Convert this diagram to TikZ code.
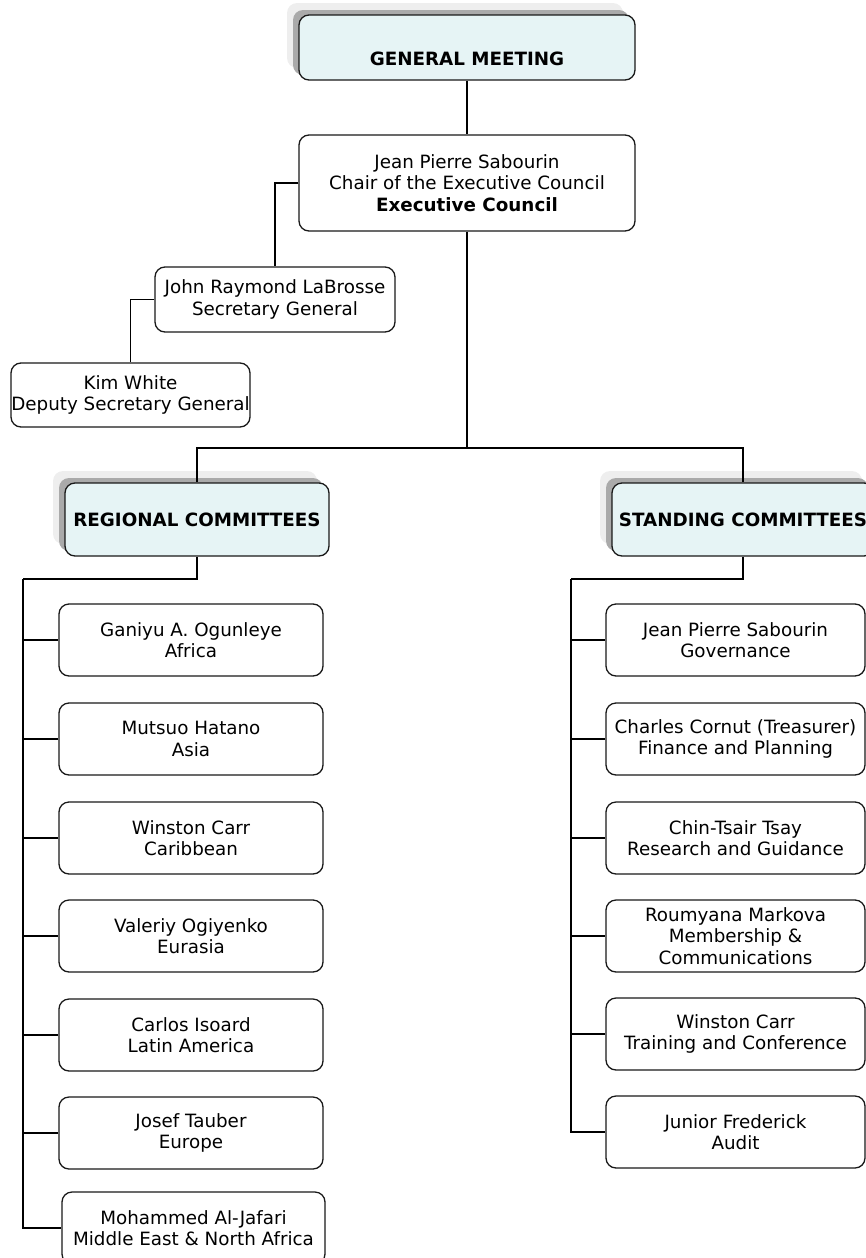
\documentclass[tikz,border=0pt]{standalone}
\usepackage{fontspec}
\setmainfont{DejaVu Sans}
\definecolor{hdrfill}{RGB}{230,244,245}
\definecolor{shdark}{RGB}{170,170,170}
\definecolor{shlight}{RGB}{238,238,238}
\definecolor{edge}{RGB}{25,25,25}
\tikzset{
  box/.style={draw=edge, line width=1.3pt, rounded corners=10pt, fill=white,
    align=center, inner sep=0pt, font=\fontsize{18.3}{21.5}\selectfont},
  hdr/.style={box, fill=hdrfill, font=\fontsize{18.3}{21.5}\selectfont\bfseries},
  link/.style={draw=black, line width=1.4pt},
}
\begin{document}
\begin{tikzpicture}[x=1pt,y=-1pt]
\useasboundingbox (0,0) rectangle (866,1258);
\clip (0,0) rectangle (866,1258);
% shadows of headers
\foreach \cx/\cy/\w/\h in {467/47.5/336/65, 197/519.5/264/73, 743/519.5/262/73}{
  \fill[shlight, rounded corners=10pt] (\cx-\w/2-12,\cy-\h/2-12) rectangle (\cx+\w/2-12,\cy+\h/2-12);
  \fill[shdark, rounded corners=10pt] (\cx-\w/2-6,\cy-\h/2-5) rectangle (\cx+\w/2-6,\cy+\h/2-5);
}
% headers
\node[hdr, minimum width=336pt, minimum height=65pt] (gm) at (467,47.5) {\raisebox{-18pt}[0pt][0pt]{GENERAL MEETING}};
\node[hdr, minimum width=264pt, minimum height=73pt] (reg) at (197,519.5) {REGIONAL COMMITTEES};
\node[hdr, minimum width=262pt, minimum height=73pt] (std) at (743,519.5) {STANDING COMMITTEES};
% executive
\node[box, minimum width=336pt, minimum height=96pt] (exec) at (467,183)
  {Jean Pierre Sabourin\\Chair of the Executive Council\\\textbf{Executive Council}};
\node[box, minimum width=240pt, minimum height=65pt] (sec) at (275,299.5)
  {John Raymond LaBrosse\\Secretary General};
\node[box, minimum width=239pt, minimum height=64pt] (kim) at (130.5,395)
  {Kim White\\Deputy Secretary General};
% regional committees
\tikzset{lbox/.style={box, minimum width=264pt, minimum height=72pt}}
\node[lbox] (r1) at (191,640) {Ganiyu A. Ogunleye\\Africa};
\node[lbox] (r2) at (191,739) {Mutsuo Hatano\\Asia};
\node[lbox] (r3) at (191,838) {Winston Carr\\Caribbean};
\node[lbox] (r4) at (191,936) {Valeriy Ogiyenko\\Eurasia};
\node[lbox] (r5) at (191,1035) {Carlos Isoard\\Latin America};
\node[lbox] (r6) at (191,1133) {Josef Tauber\\Europe};
\node[lbox, minimum width=263pt] (r7) at (193.5,1228) {Mohammed Al-Jafari\\Middle East \& North Africa};
% standing committees
\tikzset{rbox/.style={box, minimum width=259pt, minimum height=72pt}}
\node[rbox] (s1) at (735.5,640) {Jean Pierre Sabourin\\Governance};
\node[rbox] (s2) at (735.5,739) {Charles Cornut (Treasurer)\\Finance and Planning};
\node[rbox] (s3) at (735.5,838) {Chin-Tsair Tsay\\Research and Guidance};
\node[rbox] (s4) at (735.5,936) {Roumyana Markova\\Membership \&\\Communications};
\node[rbox] (s5) at (735.5,1034) {Winston Carr\\Training and Conference};
\node[rbox] (s6) at (735.5,1132) {Junior Frederick\\Audit};
% connectors
\coordinate (bus) at (467,448);
\coordinate (lt) at (23,579);
\coordinate (rt) at (571,579);
\draw[link] (gm.south) -- (exec.north);
\draw[link] (exec.west) -| (sec.north);
\draw[link] (sec.west) -| (kim.north);
\draw[link] (exec.south) -- (bus);
\draw[link] (bus) -| (reg.north);
\draw[link] (bus) -| (std.north);
\draw[link] (reg.south) |- (lt);
\draw[link] (std.south) |- (rt);
\foreach \n in {r1,r2,r3,r4,r5,r6,r7}{\draw[link] (lt) |- (\n.west);}
\foreach \n in {s1,s2,s3,s4,s5,s6}{\draw[link] (rt) |- (\n.west);}
\end{tikzpicture}
\end{document}
